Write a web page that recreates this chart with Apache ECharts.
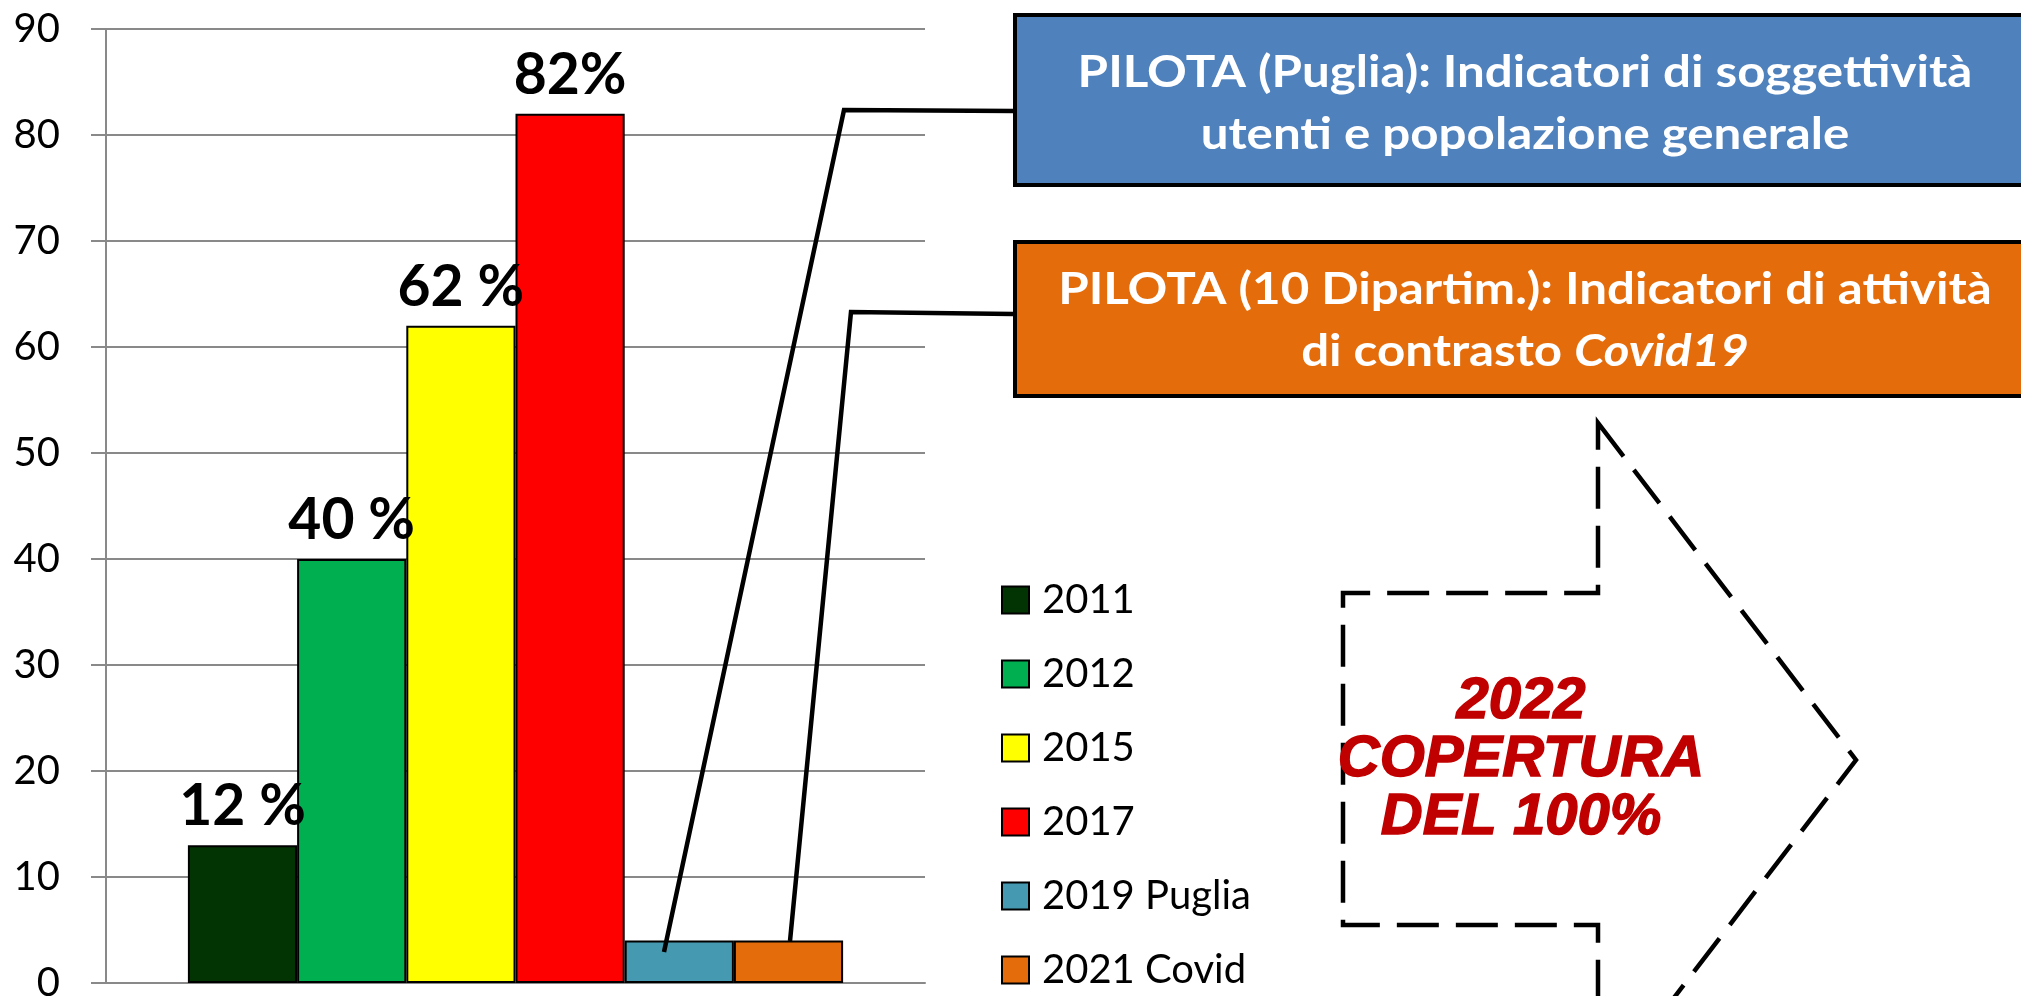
<!DOCTYPE html>
<html>
<head>
<meta charset="utf-8">
<script src="https://cdn.jsdelivr.net/npm/echarts@6/dist/echarts.min.js"></script>
<style>
  body { margin: 0; background: #fff; }
  #chart { width: 2021px; height: 996px; }
</style>
</head>
<body>
<div id="chart"></div>
<script>
var years = ['2011', '2012', '2015', '2017', '2019 Puglia', '2021 Covid'];
var values = [13, 40, 62, 82, 4, 4];
var barLabels = ['12 %', '40 %', '62 %', '82%', '', ''];
var colors = ['#023302', '#00B050', '#FFFF00', '#FF0000', '#4599B0', '#E46C0A'];
var yTicks = [0, 90, 10]; // min, max, interval

var chart = echarts.init(document.getElementById('chart'));

var series = years.map(function (name, i) {
    return {
        name: name,
        type: 'bar',
        barGap: 0,
        barCategoryGap: '20%',
        itemStyle: { color: colors[i], borderColor: '#000', borderWidth: 2 },
        label: {
            show: barLabels[i] !== '',
            position: 'top',
            distance: 10,
            formatter: barLabels[i],
            fontFamily: 'Lato',
            fontWeight: 'bold',
            fontSize: 57,
            color: '#000'
        },
        data: [values[i]]
    };
});

var option = {
    animation: false,
    grid: { left: 106, right: 1096, top: 29, bottom: 13, outerBoundsMode: 'none' },
    xAxis: {
        type: 'category',
        data: [''],
        axisLine: { lineStyle: { color: '#898989', width: 2 } },
        axisTick: { show: false },
        axisLabel: { show: false }
    },
    yAxis: {
        type: 'value',
        min: yTicks[0],
        max: yTicks[1],
        interval: yTicks[2],
        axisLine: { show: true, lineStyle: { color: '#898989', width: 2 } },
        axisTick: { show: true, length: 15, lineStyle: { color: '#898989', width: 2 } },
        splitLine: { lineStyle: { color: '#898989', width: 2 } },
        axisLabel: { fontFamily: 'Lato', fontSize: 40, color: '#000', margin: 46 }
    },
    legend: {
        orient: 'vertical',
        left: 1001,
        top: 580,
        padding: 0,
        icon: 'rect',
        itemWidth: 27,
        itemHeight: 27,
        itemGap: 34,
        itemStyle: { borderColor: '#000', borderWidth: 2 },
        textStyle: { fontFamily: 'Lato', fontSize: 40, color: '#000', lineHeight: 40, padding: [0, 0, 0, 8] },
        data: years
    },
    graphic: [
        {
            type: 'rect', z: 100,
            shape: { x: 1015, y: 15, width: 1100, height: 170 },
            style: { fill: '#4F81BD', stroke: '#000', lineWidth: 4 }
        },
        {
            type: 'text', z: 101, x: 1525, y: 104, scaleX: 1.12,
            style: {
                text: 'PILOTA (Puglia): Indicatori di soggettività\nutenti e popolazione generale',
                fill: '#fff', font: 'bold 44px Lato', align: 'center', verticalAlign: 'middle', lineHeight: 62
            }
        },
        {
            type: 'rect', z: 100,
            shape: { x: 1015, y: 242, width: 1100, height: 154 },
            style: { fill: '#E46C0A', stroke: '#000', lineWidth: 4 }
        },
        {
            type: 'text', z: 101, x: 1525, y: 321, scaleX: 1.12,
            style: {
                text: '{a|PILOTA (10 Dipartim.): Indicatori di attività}\n{a|di contrasto }{b|Covid19}',
                align: 'center', verticalAlign: 'middle',
                rich: {
                    a: { fill: '#fff', fontFamily: 'Lato', fontWeight: 'bold', fontSize: 44, lineHeight: 62 },
                    b: { fill: '#fff', fontFamily: 'Lato', fontWeight: 'bold', fontStyle: 'italic', fontSize: 44, lineHeight: 62 }
                }
            }
        },
        {
            type: 'polyline', z: 102,
            shape: { points: [[1014, 111], [844, 110], [664, 952]] },
            style: { stroke: '#000', lineWidth: 4.5, fill: null }
        },
        {
            type: 'polyline', z: 102,
            shape: { points: [[1013, 314], [851, 312], [790, 941]] },
            style: { stroke: '#000', lineWidth: 4.5, fill: null }
        },
        {
            type: 'polygon', z: 100,
            shape: { points: [[1598, 423], [1856, 760], [1598, 1097], [1598, 925], [1343, 925], [1343, 593], [1598, 593]] },
            style: { fill: null, stroke: '#000', lineWidth: 4.5, lineDash: [42, 17] }
        },
        {
            type: 'text', z: 101, x: 1521, y: 760,
            style: {
                text: '2022\nCOPERTURA\nDEL 100%',
                fill: '#C00000', stroke: '#C00000', lineWidth: 1.5,
                font: 'italic bold 58px "Liberation Sans"',
                align: 'center', verticalAlign: 'middle', lineHeight: 58
            }
        }
    ],
    series: series
};

chart.setOption(option);
</script>
</body>
</html>
